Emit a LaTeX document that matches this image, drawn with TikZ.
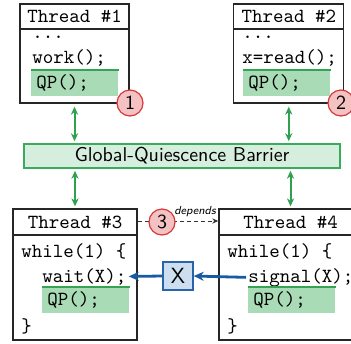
\documentclass[tikz,border=0pt]{standalone}
\usetikzlibrary{arrows.meta}

\definecolor{qpfill}{RGB}{170,219,183}
\definecolor{qpedge}{RGB}{52,163,84}
\definecolor{barfill}{RGB}{214,238,221}
\definecolor{baredge}{RGB}{58,170,92}
\definecolor{syncgreen}{RGB}{46,160,80}
\definecolor{markfill}{RGB}{244,194,194}
\definecolor{markedge}{RGB}{216,56,58}
\definecolor{xfill}{RGB}{204,222,240}
\definecolor{xedge}{RGB}{40,100,170}
\definecolor{sigblue}{RGB}{25,90,165}

\tikzset{
  threadbox/.style={draw=black!85, line width=0.7pt, inner sep=0pt},
  titletext/.style={anchor=base, font=\ttfamily, inner sep=0pt},
  code/.style={anchor=base west, font=\ttfamily, inner sep=0pt},
  qpbox/.style={anchor=north west, fill=qpfill, inner xsep=2.5pt, inner ysep=0pt,
    text width=38.5pt, text height=9pt, text depth=4pt, align=left, font=\ttfamily},
  qptop/.style={draw=qpedge, line width=1pt},
  barrier/.style={draw=baredge, fill=barfill, line width=0.8pt, font=\sffamily,
    minimum width=158pt, minimum height=12pt, inner sep=0pt},
  sync/.style={draw=syncgreen, line width=1pt, {Stealth[length=4pt,width=3.6pt]}-{Stealth[length=4pt,width=3.6pt]}},
  marker/.style={circle, draw=markedge, fill=markfill, line width=0.6pt,
    minimum size=13pt, inner sep=0pt, font=\sffamily},
  varbox/.style={draw=xedge, fill=xfill, line width=0.7pt, font=\sffamily\fontsize{11}{13}\selectfont,
    minimum width=15pt, minimum height=14pt, inner sep=0pt},
  sigarrow/.style={draw=sigblue, line width=1.4pt, -{Stealth[length=5pt,width=4.5pt]}},
  deparrow/.style={draw=black!80, line width=0.5pt, dash pattern=on 2pt off 1.5pt,
    -{Stealth[length=3pt,width=2.6pt]}},
  deplabel/.style={font=\sffamily\itshape\fontsize{5.8}{7}\selectfont, inner sep=0pt}
}

\begin{document}
\begin{tikzpicture}[x=0.5pt,y=-0.5pt]
\useasboundingbox (0,0) rectangle (351,343);
\clip (0,0) rectangle (351,343);

% Thread #1
\node[threadbox, minimum width=54.5pt, minimum height=49.5pt] (t1) at (74.5,53.5) {};
\draw[black!85, line width=0.7pt] (t1.west |- 0,29) -- (t1.east |- 0,29);
\node[titletext] (t1h) at (74.5,22) {Thread \#1};
\node[code] (t1a) at (32,38) {...};
\node[code] (t1b) at (32,63) {work();};
\node[qpbox] (q1) at (31,70) {QP();};
\draw[qptop] (q1.north west) -- (q1.north east);

% Thread #2
\node[threadbox, minimum width=55pt, minimum height=49.5pt] (t2) at (288.75,53.5) {};
\draw[black!85, line width=0.7pt] (t2.west |- 0,29) -- (t2.east |- 0,29);
\node[titletext] (t2h) at (288.75,22) {Thread \#2};
\node[code] (t2a) at (242,38) {...};
\node[code] (t2b) at (242,63) {x=read();};
\node[qpbox] (q2) at (243,70) {QP();};
\draw[qptop] (q2.north west) -- (q2.north east);

% Barrier
\node[barrier] (bar) at (182,156) {Global-Quiescence Barrier};

% Thread #3
\node[threadbox, minimum width=62pt, minimum height=65.5pt] (t3) at (75,274.5) {};
\draw[black!85, line width=0.7pt] (t3.west |- 0,235) -- (t3.east |- 0,235);
\node[titletext] (t3h) at (75,228) {Thread \#3};
\node[code] (t3a) at (21,257) {while(1) \{};
\node[code] (t3b) at (42,282) {wait(X);};
\node[qpbox] (q3) at (42,287) {QP();};
\draw[qptop] (q3.north west) -- (q3.north east);
\node[code] (t3c) at (21,332) {\}};

% Thread #4
\node[threadbox, minimum width=71.5pt, minimum height=65.5pt] (t4) at (290.5,274.5) {};
\draw[black!85, line width=0.7pt] (t4.west |- 0,235) -- (t4.east |- 0,235);
\node[titletext] (t4h) at (290.5,228) {Thread \#4};
\node[code] (t4a) at (227,257) {while(1) \{};
\node[code] (t4b) at (248,282) {signal(X);};
\node[qpbox] (q4) at (248,287) {QP();};
\draw[qptop] (q4.north west) -- (q4.north east);
\node[code] (t4c) at (227,332) {\}};

% Barrier synchronisation
\draw[sync] ([yshift=-1.5pt]t1.south) -- ([yshift=1pt]t1.south |- bar.north);
\draw[sync] ([yshift=-1.5pt]t2.south) -- ([yshift=1pt]t2.south |- bar.north);
\draw[sync] ([yshift=-1pt]bar.south -| t3.north) -- ([yshift=1pt]t3.north);
\draw[sync] ([yshift=-1pt]bar.south -| t4.north) -- ([yshift=1pt]t4.north);

% Shared variable X
\node[varbox] (x) at (178,276) {X};
\draw[sigarrow] ([xshift=-1pt]t4b.west) -- (x.east);
\draw[sigarrow] (x.west) -- ([xshift=1pt]t3b.east);

% Dependency between threads #3 and #4
\coordinate (d3) at (t3.east |- 0,221);
\coordinate (d4) at (t4.west |- 0,221);
\draw[deparrow] (d3) -- (d4);
\node[deplabel] (dep) at (195,212) {depends};

% Step markers
\node[marker] (m1) at (130,103) {1};
\node[marker] (m2) at (341,103) {2};
\node[marker] (m3) at (162,222) {3};
\end{tikzpicture}
\end{document}
